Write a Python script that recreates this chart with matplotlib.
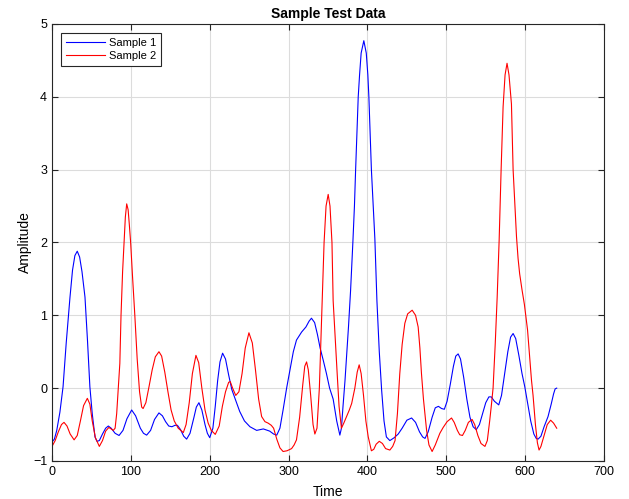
import numpy as np
import matplotlib
matplotlib.use("Agg")
import matplotlib.pyplot as plt

# values
t_sample_1 = [0, 3, 6, 10, 14, 18, 22.8, 26, 29, 32, 35, 38, 41.8, 45, 48, 51, 54.5, 57, 60, 64,
              68, 71.4, 75, 80, 85, 90, 95, 101, 106, 112, 116, 120, 125, 130, 135.6, 140, 144,
              148, 152, 156, 159, 163, 167, 170.7, 175, 180, 183, 186.3, 190, 194, 197, 200,
              204, 207, 210, 213, 216.3, 220, 224, 228, 232, 238, 244, 251, 259.5, 268, 276,
              281, 285, 289, 293, 297.5, 301.7, 306, 310, 316.5, 322, 326, 329, 333, 336.5,
              340, 344, 348, 352, 356.5, 361, 365, 367, 369, 371.5, 373.5, 376, 378.6, 381.5,
              383.5, 385, 388.3, 390, 392, 395.4, 398.5, 400.5, 401.8, 405, 409.4, 412, 415,
              418, 421, 424, 428.4, 434, 439, 444, 450, 456, 461, 466, 470, 473, 477, 482, 486,
              490, 494, 497.5, 501, 505, 509, 512, 515, 518, 522, 526, 530, 534, 538, 542, 546,
              550, 554, 557, 561, 566.5, 570, 574, 578, 581.5, 584.7, 588, 592, 596, 599.5,
              603, 607, 611, 614, 616.4, 620, 624, 629, 633, 636, 638, 640]
y_sample_1 = [-0.74, -0.70, -0.58, -0.33, 0.02, 0.62, 1.25, 1.62, 1.82, 1.88, 1.80, 1.60, 1.25,
              0.65, 0.02, -0.35, -0.67, -0.73, -0.72, -0.63, -0.55, -0.52, -0.55, -0.62, -0.65,
              -0.58, -0.42, -0.30, -0.38, -0.55, -0.62, -0.645, -0.58, -0.43, -0.34, -0.38,
              -0.46, -0.52, -0.53, -0.51, -0.51, -0.57, -0.66, -0.70, -0.62, -0.40, -0.26,
              -0.20, -0.30, -0.50, -0.62, -0.68, -0.55, -0.25, 0.10, 0.36, 0.48, 0.40, 0.18,
              -0.02, -0.14, -0.32, -0.45, -0.53, -0.58, -0.56, -0.59, -0.63, -0.645, -0.55,
              -0.30, 0.0, 0.25, 0.50, 0.66, 0.77, 0.84, 0.92, 0.96, 0.90, 0.74, 0.55, 0.38,
              0.20, 0.0, -0.15, -0.45, -0.645, -0.55, -0.25, 0.10, 0.43, 0.85, 1.34, 2.0, 2.5,
              3.0, 4.0, 4.3, 4.6, 4.77, 4.6, 4.3, 4.0, 3.0, 2.05, 1.2, 0.5, -0.03, -0.45,
              -0.67, -0.72, -0.68, -0.63, -0.55, -0.44, -0.41, -0.47, -0.60, -0.67, -0.69,
              -0.60, -0.40, -0.27, -0.25, -0.28, -0.29, -0.18, 0.05, 0.30, 0.44, 0.47, 0.40,
              0.15, -0.15, -0.40, -0.53, -0.57, -0.50, -0.35, -0.20, -0.12, -0.12, -0.18,
              -0.23, -0.10, 0.20, 0.50, 0.70, 0.75, 0.68, 0.45, 0.20, 0.02, -0.20, -0.45,
              -0.63, -0.69, -0.70, -0.66, -0.53, -0.39, -0.22, -0.08, -0.01, 0.0]

t_sample_2 = [0, 4, 8, 12, 15.2, 19, 23, 28, 32, 36, 40, 44.8, 48, 51, 55, 60, 64, 68, 72, 75,
              77.7, 80, 82, 84, 86, 87.5, 89.5, 91.3, 93, 94.7, 96.5, 98, 99.7, 102, 105, 108,
              111, 113.7, 115.5, 119, 123, 127, 131, 135.6, 139, 143, 147, 151, 155, 160,
              166.5, 170, 174, 178, 182.5, 186, 190, 194, 198, 202, 207, 212, 216, 220, 224,
              226, 229, 233, 237, 241, 245, 249.7, 254, 258, 262, 265.8, 270, 274, 278, 281,
              285, 289, 293, 298, 303.8, 307, 310, 314, 318, 320.5, 322.8, 325, 328, 331,
              333.3, 336, 339, 342.6, 345, 347.5, 350.2, 352.5, 355, 356.5, 358.5, 361.6, 364,
              367, 370, 373.5, 377, 380, 384, 387, 389.5, 392, 395, 398, 401, 405, 408, 411,
              415, 419, 423, 428.4, 432, 435, 438, 441, 444, 447.4, 451, 456.7, 461, 464.3,
              466.5, 468.5, 471, 475, 478, 482, 486, 491.8, 496, 501, 506.6, 510, 514, 517,
              520.5, 524, 528, 532.7, 536, 540, 544, 549, 552, 555, 557, 559.3, 562, 564.5,
              567, 569.5, 572, 574.5, 577, 579.5, 582.6, 584.7, 587, 589, 591, 593, 596, 599,
              601, 603, 605.5, 608, 610, 613, 615.5, 617.6, 620, 624, 628, 632.3, 636, 640]
y_sample_2 = [-0.80, -0.72, -0.60, -0.50, -0.47, -0.52, -0.63, -0.71, -0.65, -0.45, -0.24,
              -0.14, -0.22, -0.45, -0.68, -0.80, -0.72, -0.59, -0.54, -0.56, -0.58, -0.55,
              -0.35, 0.0, 0.34, 1.0, 1.6, 2.0, 2.35, 2.53, 2.45, 2.25, 2.0, 1.55, 1.0, 0.40,
              -0.05, -0.26, -0.28, -0.20, 0.02, 0.25, 0.43, 0.50, 0.44, 0.22, -0.05, -0.30,
              -0.45, -0.55, -0.61, -0.50, -0.20, 0.20, 0.45, 0.35, 0.0, -0.30, -0.48, -0.58,
              -0.635, -0.52, -0.25, -0.05, 0.08, 0.09, 0.0, -0.10, -0.05, 0.20, 0.55, 0.76,
              0.62, 0.25, -0.15, -0.39, -0.46, -0.48, -0.51, -0.55, -0.70, -0.82, -0.87,
              -0.86, -0.83, -0.78, -0.71, -0.40, 0.05, 0.30, 0.36, 0.25, -0.10, -0.50, -0.63,
              -0.55, 0.0, 1.2, 2.0, 2.5, 2.66, 2.5, 2.0, 1.2, 0.8, 0.2, -0.25, -0.55, -0.48,
              -0.39, -0.30, -0.21, 0.0, 0.22, 0.32, 0.20, -0.10, -0.45, -0.67, -0.86, -0.84,
              -0.77, -0.73, -0.76, -0.83, -0.85, -0.80, -0.72, -0.35, 0.2, 0.6, 0.89, 1.02,
              1.07, 1.0, 0.84, 0.55, 0.20, -0.15, -0.58, -0.78, -0.87, -0.78, -0.62, -0.54,
              -0.46, -0.41, -0.47, -0.58, -0.64, -0.65, -0.58, -0.47, -0.43, -0.50, -0.65,
              -0.76, -0.80, -0.72, -0.45, -0.25, 0.0, 0.6, 1.25, 2.03, 3.0, 3.86, 4.3, 4.46,
              4.3, 3.9, 3.0, 2.5, 2.08, 1.78, 1.57, 1.35, 1.15, 0.98, 0.80, 0.45, 0.11, -0.1,
              -0.5, -0.75, -0.85, -0.80, -0.65, -0.50, -0.44, -0.48, -0.55]

x_ticks = [0, 100, 200, 300, 400, 500, 600, 700]
y_ticks = [-1, 0, 1, 2, 3, 4, 5]

plt.rcParams['font.family'] = ['Liberation Sans', 'DejaVu Sans']

fig = plt.figure(figsize=(6.29, 4.99), dpi=100)
ax = fig.add_axes([0.0827, 0.0762, 0.8776, 0.8758])

ax.plot(t_sample_1, y_sample_1, color='#0000ff', lw=0.8, label='Sample 1')
ax.plot(t_sample_2, y_sample_2, color='#ff0000', lw=0.8, label='Sample 2')

ax.set_xlim(0, 700)
ax.set_ylim(-1, 5)
ax.set_xticks(x_ticks)
ax.set_yticks(y_ticks)
ax.grid(True, color='#dcdcdc', lw=0.8)
ax.set_axisbelow(True)
ax.tick_params(direction='in', top=True, right=True, labelsize=9, length=4, color='#262626')
for s in ax.spines.values():
    s.set_color('#262626')
    s.set_linewidth(0.8)

ax.set_title('Sample Test Data', fontsize=10, fontweight='bold', pad=4)
ax.set_xlabel('Time', fontsize=10, labelpad=5)
ax.set_ylabel('Amplitude', fontsize=10, labelpad=1)

leg = ax.legend(loc='upper left', fontsize=8, fancybox=False, framealpha=1,
                edgecolor='#262626', borderaxespad=0.8, handlelength=3.5,
                handletextpad=0.4, borderpad=0.45, labelspacing=0.25)
leg.get_frame().set_linewidth(0.8)

fig.savefig('out.png', dpi=100)
